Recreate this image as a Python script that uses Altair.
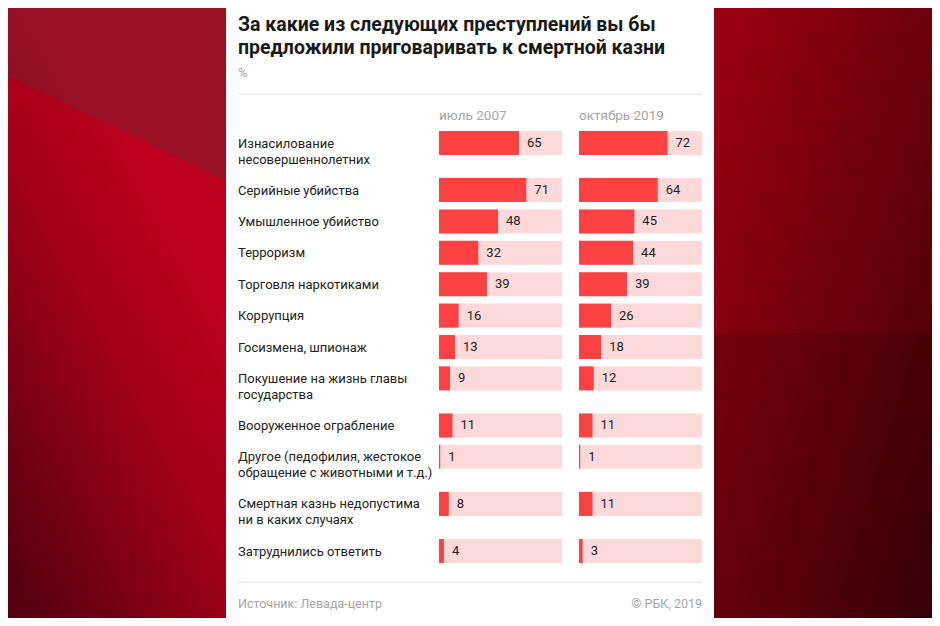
import altair as alt
import pandas as pd

# ---------------- data ----------------
categories = [
    "Изнасилование\nнесовершеннолетних",
    "Серийные убийства",
    "Умышленное убийство",
    "Терроризм",
    "Торговля наркотиками",
    "Коррупция",
    "Госизмена, шпионаж",
    "Покушение на жизнь главы\nгосударства",
    "Вооруженное ограбление",
    "Другое (педофилия, жестокое\nобращение с животными и т.д.)",
    "Смертная казнь недопустима\nни в каких случаях",
    "Затруднились ответить",
]
periods = ["июль 2007", "октябрь 2019"]
values_2007 = [65, 71, 48, 32, 39, 16, 13, 9, 11, 1, 8, 4]
values_2019 = [72, 64, 45, 44, 39, 26, 18, 12, 11, 1, 11, 3]

title_lines = ["За какие из следующих преступлений вы бы",
               "предложили приговаривать к смертной казни"]
unit_text = "%"
source_text = "Источник: Левада-центр"
credit_text = "© РБК, 2019"

# ---------------- layout constants ----------------
CARD_W, CARD_H = 488, 610
SIDE = 218
LEFT = 12
RIGHT = 476
COL_RANGES = [[213, 336], [353, 476]]
Y_RANGE = [135, 543]
BAR_H = 24
RED = "#fb4142"
PINK = "#fdd9d9"
DARK = "#222222"
GRAY = "#a5a5a5"
FONT = "Roboto"

# row slots: a two-line label takes 1.5 slots
slots = []
pos = 0.0
for c in categories:
    slots.append(pos)
    pos += 1.5 if "\n" in c else 1.0
y_max = slots[-1]

rows = []
for p, vals in zip(periods, [values_2007, values_2019]):
    for c, s, v in zip(categories, slots, vals):
        rows.append({"category": c, "slot": s, "period": p, "value": v})
df = pd.DataFrame(rows)
labels_df = pd.DataFrame({"category": categories, "slot": slots})

yscale = alt.Scale(domain=[0, y_max], range=Y_RANGE, padding=0, nice=False, zero=False)

# ---------------- background ----------------
one = pd.DataFrame({"k": [0]})


def stop(o, c):
    return alt.GradientStop(offset=o, color=c)


left_bg = alt.Chart(one).mark_rect(
    fill=alt.LinearGradient(
        gradient="linear", x1=0.6, y1=0.25, x2=0.1, y2=1.0,
        stops=[stop(0, "#bc001d"), stop(0.35, "#a30019"), stop(1, "#560010")])
).encode(x=alt.value(-SIDE), x2=alt.value(0), y=alt.value(0), y2=alt.value(CARD_H))

left_glare = alt.Chart(one).mark_rect(
    fill=alt.LinearGradient(
        gradient="linear", x1=0.5, y1=0.196, x2=0.414, y2=0.696,
        stops=[stop(0, "rgba(105,40,50,0.42)"), stop(0.004, "rgba(105,40,50,0)"),
               stop(1, "rgba(105,40,50,0)")])
).encode(x=alt.value(-SIDE), x2=alt.value(0), y=alt.value(0), y2=alt.value(CARD_H))

right_bg = alt.Chart(one).mark_rect(
    fill=alt.LinearGradient(
        gradient="linear", x1=0.0, y1=0.15, x2=1.0, y2=1.0,
        stops=[stop(0, "#960011"), stop(0.5, "#6c000d"), stop(1, "#3e0008")])
).encode(x=alt.value(CARD_W), x2=alt.value(CARD_W + SIDE), y=alt.value(0), y2=alt.value(CARD_H))

right_shade = alt.Chart(one).mark_rect(fill="black", opacity=0.12).encode(
    x=alt.value(CARD_W), x2=alt.value(CARD_W + SIDE), y=alt.value(325), y2=alt.value(CARD_H))

card = alt.Chart(one).mark_rect(fill="white").encode(
    x=alt.value(0), x2=alt.value(CARD_W), y=alt.value(0), y2=alt.value(CARD_H))

# ---------------- header texts ----------------
title_df = pd.DataFrame({"t": ["\n".join(title_lines)]})
title = alt.Chart(title_df).mark_text(
    align="left", baseline="alphabetic", font=FONT, fontSize=19.5, fontWeight="bold",
    color="#1a1a1a", lineBreak="\n", lineHeight=23
).encode(text="t:N", x=alt.value(LEFT), y=alt.value(23))

unit = alt.Chart(pd.DataFrame({"t": [unit_text]})).mark_text(
    align="left", baseline="alphabetic", font=FONT, fontSize=13, color=GRAY
).encode(text="t:N", x=alt.value(LEFT), y=alt.value(69))

sep_top = alt.Chart(one).mark_rule(color="#e3e3e3", strokeWidth=1).encode(
    x=alt.value(LEFT), x2=alt.value(RIGHT), y=alt.value(86))
sep_bot = alt.Chart(one).mark_rule(color="#e3e3e3", strokeWidth=1).encode(
    x=alt.value(LEFT), x2=alt.value(RIGHT), y=alt.value(574))

source = alt.Chart(pd.DataFrame({"t": [source_text]})).mark_text(
    align="left", baseline="alphabetic", font=FONT, fontSize=12.5, color=GRAY
).encode(text="t:N", x=alt.value(LEFT), y=alt.value(600))
credit = alt.Chart(pd.DataFrame({"t": [credit_text]})).mark_text(
    align="right", baseline="alphabetic", font=FONT, fontSize=12.5, color=GRAY
).encode(text="t:N", x=alt.value(RIGHT), y=alt.value(600))

# ---------------- row labels ----------------
row_labels = alt.Chart(labels_df).mark_text(
    align="left", baseline="alphabetic", dy=4.5, font=FONT, fontSize=13,
    color=DARK, lineBreak="\n", lineHeight=16
).encode(text="category:N", x=alt.value(LEFT), y=alt.Y("slot:Q", scale=yscale, axis=None))

# ---------------- bar columns ----------------
col_layers = []
for p, rng in zip(periods, COL_RANGES):
    xs = alt.Scale(domain=[0, 100], range=rng, zero=True, nice=False, padding=0)
    base = alt.Chart(df).transform_filter(alt.datum.period == p)
    track = base.transform_calculate(z="0", f="100").mark_bar(
        color=PINK, height=BAR_H, orient="horizontal"
    ).encode(x=alt.X("z:Q", scale=xs, axis=None), x2="f:Q",
             y=alt.Y("slot:Q", scale=yscale, axis=None))
    bar = base.transform_calculate(z="0").mark_bar(
        color=RED, height=BAR_H, orient="horizontal"
    ).encode(x=alt.X("z:Q", scale=xs, axis=None), x2="value:Q",
             y=alt.Y("slot:Q", scale=yscale, axis=None))
    val = base.mark_text(
        align="left", baseline="middle", dx=8, font=FONT, fontSize=13, color=DARK
    ).encode(x=alt.X("value:Q", scale=xs, axis=None),
             y=alt.Y("slot:Q", scale=yscale, axis=None), text="value:Q")
    head = alt.Chart(pd.DataFrame({"t": [p]})).mark_text(
        align="left", baseline="alphabetic", font=FONT, fontSize=13.5, color=GRAY
    ).encode(text="t:N", x=alt.value(rng[0]), y=alt.value(112))
    col_layers += [track, bar, val, head]

chart = alt.layer(
    left_bg, left_glare, right_bg, right_shade, card, title, unit, sep_top, sep_bot,
    source, credit, row_labels, *col_layers
).resolve_scale(x="independent").properties(
    width=CARD_W, height=CARD_H,
    padding={"left": SIDE, "right": SIDE, "top": 0, "bottom": 0},
    autosize=alt.AutoSizeParams(type="none"),
    background="#8a0014",
).configure_view(stroke=None)

chart.save("out.html", embed_options={"renderer": "svg", "actions": False})
